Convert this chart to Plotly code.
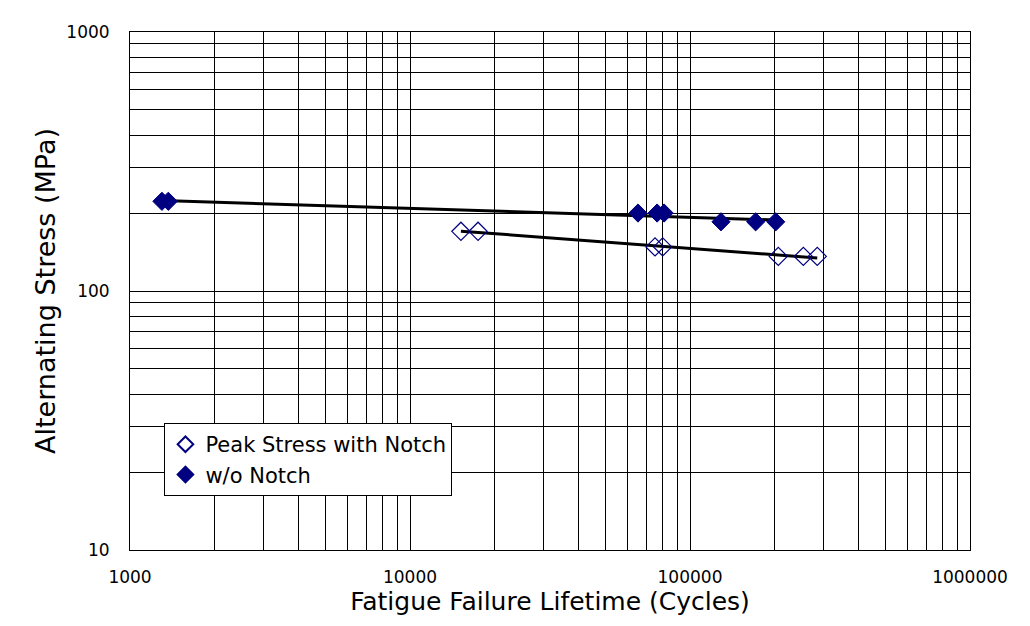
import numpy as np
import plotly.graph_objects as go

# Data
peak_cycles = [15200, 17500, 75000, 79900, 206700, 254000, 284800]
peak_stress = [170, 170, 148, 148, 136, 136, 136]
won_cycles = [1300, 1370, 65200, 76300, 80800, 129000, 171600, 202400]
won_stress = [222, 222, 200, 200, 200, 185, 185, 185]

x_decades = [1000, 10000, 100000, 1000000]
y_decades = [10, 100, 1000]

FONT = "DejaVu Sans"
NAVY = "#000080"


def power_fit(x, y):
    lx, ly = np.log10(x), np.log10(y)
    b, a = np.polyfit(lx, ly, 1)
    xs = np.array([min(x), max(x)], dtype=float)
    return xs, 10 ** (a + b * np.log10(xs))


def log_ticks(decades):
    vals, texts = [], []
    for i, d in enumerate(decades):
        vals.append(d)
        texts.append(str(d))
        if i < len(decades) - 1:
            for m in range(2, 10):
                vals.append(d * m)
                texts.append("")
    return vals, texts


fig = go.Figure()

fx, fy = power_fit(won_cycles, won_stress)
fig.add_trace(go.Scatter(x=fx, y=fy, mode="lines", line=dict(color="black", width=3),
                         showlegend=False, hoverinfo="skip"))
fx2, fy2 = power_fit(peak_cycles, peak_stress)
fig.add_trace(go.Scatter(x=fx2, y=fy2, mode="lines", line=dict(color="black", width=3),
                         showlegend=False, hoverinfo="skip"))

fig.add_trace(go.Scatter(x=peak_cycles, y=peak_stress, mode="markers",
                         name="Peak Stress with Notch",
                         marker=dict(symbol="diamond-open", size=14, color=NAVY,
                                     line=dict(color=NAVY, width=1.2))))
fig.add_trace(go.Scatter(x=won_cycles, y=won_stress, mode="markers",
                         name="w/o Notch",
                         marker=dict(symbol="diamond", size=14, color=NAVY,
                                     line=dict(color=NAVY, width=1))))

xv, xt = log_ticks(x_decades)
yv, yt = log_ticks(y_decades)

fig.update_xaxes(type="log", range=[3, 6], tickvals=xv, ticktext=xt,
                 showgrid=True, gridcolor="black", gridwidth=1,
                 showline=True, linecolor="black", linewidth=1, mirror=True,
                 ticks="", zeroline=False, ticklabelstandoff=12,
                 tickfont=dict(family=FONT, size=17, color="black"),
                 title=dict(text="Fatigue Failure Lifetime (Cycles)",
                            font=dict(family=FONT, size=25, color="black"), standoff=1))
fig.update_yaxes(type="log", range=[1, 3], tickvals=yv, ticktext=yt,
                 showgrid=True, gridcolor="black", gridwidth=1,
                 showline=True, linecolor="black", linewidth=1, mirror=True,
                 ticks="", zeroline=False, ticklabelstandoff=16,
                 tickfont=dict(family=FONT, size=17, color="black"),
                 title=dict(text="Alternating Stress (MPa)",
                            font=dict(family=FONT, size=27, color="black"), standoff=2))

fig.update_layout(
    width=1030, height=626,
    margin=dict(l=130, r=60, t=32, b=76),
    paper_bgcolor="white", plot_bgcolor="white",
    font=dict(family=FONT, color="black"),
    legend=dict(x=0.041, y=0.245, xanchor="left", yanchor="top",
                bgcolor="white", bordercolor="black", borderwidth=1,
                font=dict(family=FONT, size=21, color="black"),
                itemsizing="constant", tracegroupgap=0),
)

fig.write_html("out.html")
